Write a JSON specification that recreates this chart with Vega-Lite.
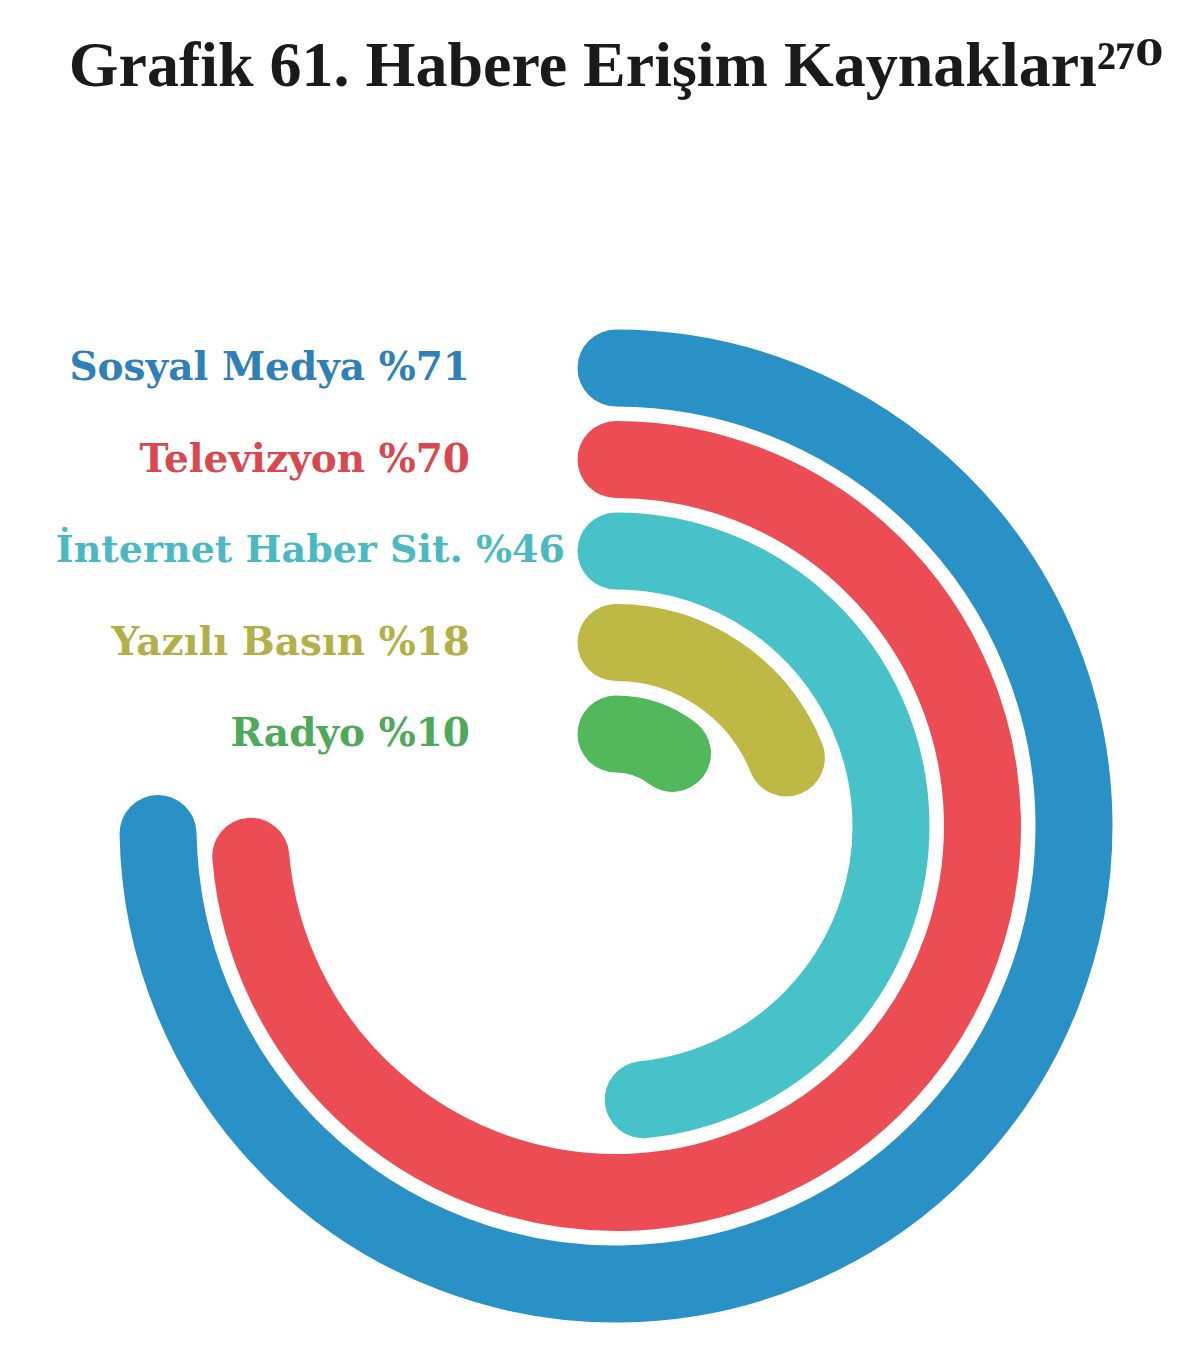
{
  "$schema": "https://vega.github.io/schema/vega-lite/v6.json",
  "autosize": {"type": "none"},
  "width": 1000,
  "height": 1000,
  "padding": {"left": 116, "top": 326, "right": 84, "bottom": 23},
  "background": "white",
  "title": {
    "text": "Grafik 61. Habere Erişim Kaynakları²⁷⁰",
    "font": "'Liberation Serif', 'DejaVu Serif', serif",
    "fontWeight": "bold",
    "fontSize": 64,
    "color": "#1a1a1a",
    "anchor": "middle",
    "frame": "group",
    "baseline": "alphabetic",
    "offset": 176
  },
  "data": {
    "values": [
      {"kaynak": "Sosyal Medya", "oran": 71},
      {"kaynak": "Televizyon", "oran": 70},
      {"kaynak": "İnternet Haber Sit.", "oran": 46},
      {"kaynak": "Yazılı Basın", "oran": 18},
      {"kaynak": "Radyo", "oran": 10}
    ]
  },
  "transform": [
    {"calculate": "datum.kaynak + ' %' + datum.oran", "as": "etiket"}
  ],
  "resolve": {"scale": {"color": "independent"}},
  "layer": [
    {
      "mark": {
        "type": "arc",
        "filled": false,
        "strokeWidth": 77,
        "strokeCap": "round",
        "strokeJoin": "round"
      },
      "encoding": {
        "theta": {
          "field": "oran",
          "type": "quantitative",
          "stack": null,
          "scale": {"domain": [0, 95], "range": [0, 6.2832]}
        },
        "radius": {
          "field": "kaynak",
          "type": "nominal",
          "scale": {
            "type": "point",
            "domain": ["Radyo", "Yazılı Basın", "İnternet Haber Sit.", "Televizyon", "Sosyal Medya"],
            "range": [92, 458],
            "padding": 0
          }
        },
        "radius2": {"field": "kaynak"},
        "color": {
          "field": "kaynak",
          "type": "nominal",
          "legend": null,
          "scale": {
            "domain": ["Sosyal Medya", "Televizyon", "İnternet Haber Sit.", "Yazılı Basın", "Radyo"],
            "range": ["#2a91c6", "#ec4d55", "#47c2c9", "#bdb944", "#52b85c"]
          }
        }
      }
    },
    {
      "transform": [{"filter": "datum.kaynak !== 'İnternet Haber Sit.'"}],
      "mark": {
        "type": "text",
        "theta": 0,
        "align": "right",
        "baseline": "middle",
        "dx": -146,
        "font": "DejaVu Serif",
        "fontWeight": "bold",
        "fontSize": 39
      },
      "encoding": {
        "radius": {"field": "kaynak", "type": "nominal"},
        "text": {"field": "etiket", "type": "nominal"},
        "color": {
          "field": "kaynak",
          "type": "nominal",
          "legend": null,
          "scale": {
            "domain": ["Sosyal Medya", "Televizyon", "İnternet Haber Sit.", "Yazılı Basın", "Radyo"],
            "range": ["#2f80b6", "#d9484f", "#4bb9c1", "#b3b048", "#4ea95a"]
          }
        }
      }
    },
    {
      "transform": [{"filter": "datum.kaynak === 'İnternet Haber Sit.'"}],
      "mark": {
        "type": "text",
        "theta": 0,
        "align": "right",
        "baseline": "middle",
        "dx": -51,
        "font": "DejaVu Serif",
        "fontWeight": "bold",
        "fontSize": 38,
        "color": "#4bb9c1"
      },
      "encoding": {
        "radius": {"field": "kaynak", "type": "nominal"},
        "text": {"field": "etiket", "type": "nominal"}
      }
    }
  ]
}
